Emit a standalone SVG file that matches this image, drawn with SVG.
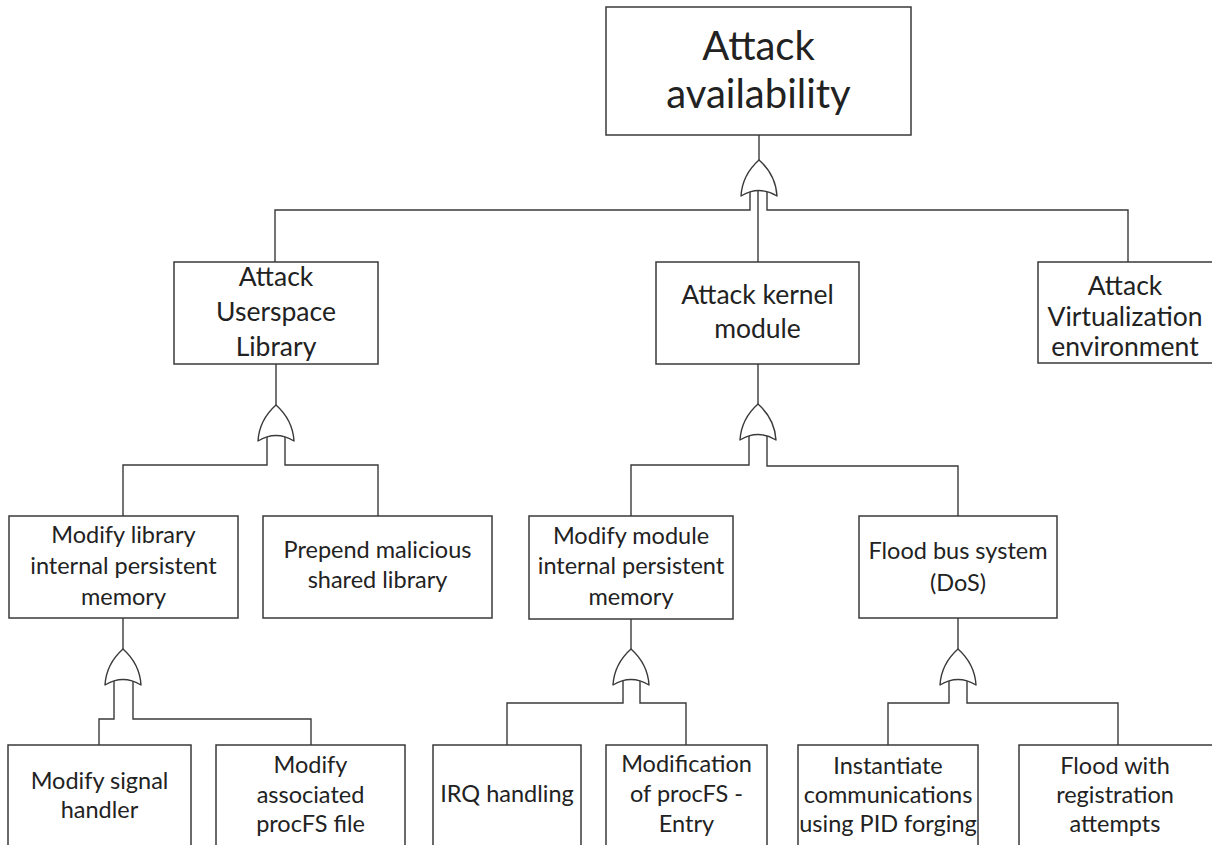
<svg xmlns="http://www.w3.org/2000/svg" width="1212" height="845" viewBox="0 0 1212 845">
  <style>
    .box { fill: #ffffff; stroke: #3a3a3a; stroke-width: 1.5; }
    .wire { fill: none; stroke: #3a3a3a; stroke-width: 1.4; }
    .gate { fill: #ffffff; stroke: #3a3a3a; stroke-width: 1.4; stroke-linejoin: round; }
    text { font-family: Lato, "Open Sans", "Liberation Sans", sans-serif; fill: #222222; text-anchor: middle; }
    .t0 { font-size: 40px; }
    .t1 { font-size: 26.5px; }
    .t2 { font-size: 23.5px; }
  </style>
  <defs>
    <!-- OR gate, tip at (0,0), base corners at (+-18,36) -->
    <path id="orgate" d="M -18 36 C -17 20 -9 8 0 0 C 9 8 17 20 18 36 Q 0 25 -18 36 Z"/>
  </defs>

  <!-- connectors -->
  <g id="connectors" class="wire">
    <!-- root gate -->
    <path d="M 759 135 V 160"/>
    <path d="M 750 190 V 210 H 275 V 262"/>
    <path d="M 758 188 V 262"/>
    <path d="M 767 190 V 210 H 1128 V 262"/>
    <!-- userspace gate -->
    <path d="M 276 364 V 405"/>
    <path d="M 267 436 V 465 H 123 V 516"/>
    <path d="M 285 436 V 465 H 378 V 516"/>
    <!-- kernel gate -->
    <path d="M 758 364 V 404"/>
    <path d="M 749 436 V 465 H 631 V 516"/>
    <path d="M 767 436 V 466 H 958 V 516"/>
    <!-- library memory gate -->
    <path d="M 123 618 V 649"/>
    <path d="M 114 680 V 719 H 99 V 745"/>
    <path d="M 133 680 V 719 H 311 V 745"/>
    <!-- module memory gate -->
    <path d="M 631 619 V 649"/>
    <path d="M 623 680 V 703 H 507 V 745"/>
    <path d="M 640 680 V 703 H 686 V 745"/>
    <!-- flood bus gate -->
    <path d="M 958 618 V 649"/>
    <path d="M 949 680 V 703 H 888 V 745"/>
    <path d="M 967 680 V 703 H 1118 V 745"/>
  </g>

  <!-- gates -->
  <g id="gates" class="gate">
    <use href="#orgate" x="759" y="160"/>
    <use href="#orgate" x="276" y="405"/>
    <use href="#orgate" x="758" y="404"/>
    <use href="#orgate" x="123" y="649"/>
    <use href="#orgate" x="631" y="649"/>
    <use href="#orgate" x="958" y="649"/>
  </g>

  <g id="attack-availability">
    <rect class="box" x="606" y="7" width="305" height="128"/>
    <text class="t0" x="758.5" y="60">Attack</text>
    <text class="t0" x="758.5" y="108">availability</text>
  </g>

  <g id="attack-userspace-library">
    <rect class="box" x="174" y="262" width="204" height="102"/>
    <text class="t1" x="276" y="286">Attack</text>
    <text class="t1" x="276" y="321">Userspace</text>
    <text class="t1" x="276" y="356">Library</text>
  </g>

  <g id="attack-kernel-module">
    <rect class="box" x="656" y="262" width="203" height="102"/>
    <text class="t1" x="757.5" y="304">Attack kernel</text>
    <text class="t1" x="757.5" y="338">module</text>
  </g>

  <g id="attack-virtualization">
    <rect class="box" x="1038" y="262" width="180" height="101"/>
    <text class="t1" x="1125" y="295">Attack</text>
    <text class="t1" x="1125" y="326">Virtualization</text>
    <text class="t1" x="1125" y="356">environment</text>
  </g>

  <g id="modify-library-memory">
    <rect class="box" x="9" y="516" width="229" height="102"/>
    <text class="t2" x="123.5" y="543">Modify library</text>
    <text class="t2" x="123.5" y="574">internal persistent</text>
    <text class="t2" x="123.5" y="605">memory</text>
  </g>

  <g id="prepend-shared-library">
    <rect class="box" x="263" y="516" width="229" height="102"/>
    <text class="t2" x="377.5" y="558">Prepend malicious</text>
    <text class="t2" x="377.5" y="588">shared library</text>
  </g>

  <g id="modify-module-memory">
    <rect class="box" x="529" y="516" width="204" height="103"/>
    <text class="t2" x="631" y="544">Modify module</text>
    <text class="t2" x="631" y="574">internal persistent</text>
    <text class="t2" x="631" y="605">memory</text>
  </g>

  <g id="flood-bus-system">
    <rect class="box" x="859" y="516" width="198" height="102"/>
    <text class="t2" x="958" y="559">Flood bus system</text>
    <text class="t2" x="958" y="591">(DoS)</text>
  </g>

  <g id="modify-signal-handler">
    <rect class="box" x="8" y="745" width="183" height="110"/>
    <text class="t2" x="99.5" y="789">Modify signal</text>
    <text class="t2" x="99.5" y="818">handler</text>
  </g>

  <g id="modify-procfs-file">
    <rect class="box" x="216" y="745" width="189" height="110"/>
    <text class="t2" x="310.5" y="773">Modify</text>
    <text class="t2" x="310.5" y="803">associated</text>
    <text class="t2" x="310.5" y="832">procFS file</text>
  </g>

  <g id="irq-handling">
    <rect class="box" x="433" y="745" width="148" height="110"/>
    <text class="t2" x="507" y="802">IRQ handling</text>
  </g>

  <g id="procfs-entry">
    <rect class="box" x="606" y="745" width="161" height="110"/>
    <text class="t2" x="686.5" y="772">Modification</text>
    <text class="t2" x="686.5" y="802">of procFS -</text>
    <text class="t2" x="686.5" y="832">Entry</text>
  </g>

  <g id="pid-forging">
    <rect class="box" x="798" y="745" width="180" height="110"/>
    <text class="t2" x="888" y="774">Instantiate</text>
    <text class="t2" x="888" y="803">communications</text>
    <text class="t2" x="888" y="832">using PID forging</text>
  </g>

  <g id="registration-flood">
    <rect class="box" x="1019" y="745" width="200" height="110"/>
    <text class="t2" x="1115" y="774">Flood with</text>
    <text class="t2" x="1115" y="803">registration</text>
    <text class="t2" x="1115" y="832">attempts</text>
  </g>
</svg>
